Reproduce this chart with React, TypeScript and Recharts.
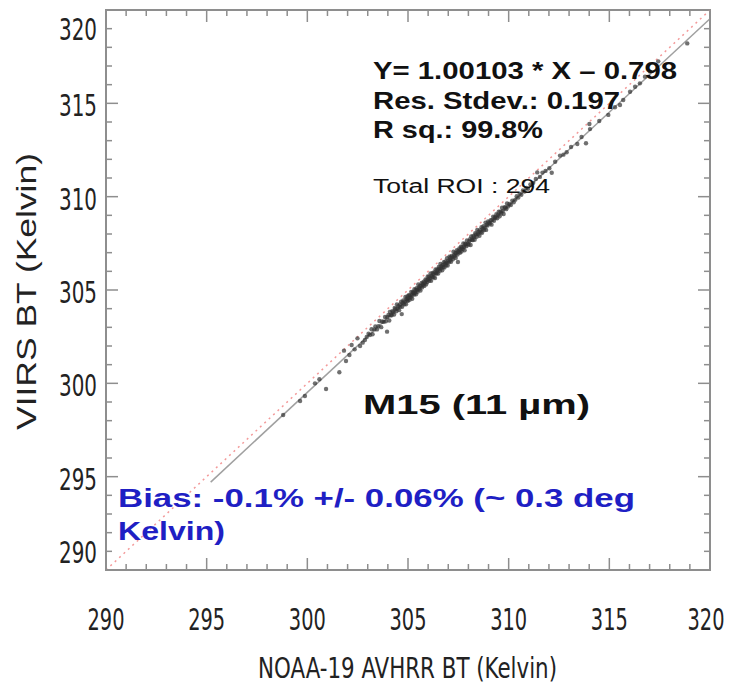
import React from 'react';
import { ScatterChart, Scatter, XAxis, YAxis, ReferenceLine, ReferenceArea } from 'recharts';

// axis ticks (K), every 1 K, labelled every 5 K
const axisTicks = [
  290, 291, 292, 293, 294, 295, 296, 297, 298, 299, 300, 301, 302, 303, 304, 305,
  306, 307, 308, 309, 310, 311, 312, 313, 314, 315, 316, 317, 318, 319, 320,
];
const axisDomain = [290, 320];

// 1:1 reference line and regression fit end points [avhrr, viirs]
const oneToOne = [[290, 290], [320, 320]];
const fitLine = [[295.2, 294.71], [320, 319.53]];

// ROI brightness temperatures: [NOAA-19 AVHRR, VIIRS M15]
const roiPoints = [
  [298.80, 298.30], [299.64, 299.05], [299.88, 299.32], [300.38, 300.00], [300.60, 300.22],
  [300.93, 299.70], [301.59, 300.59], [301.82, 301.75], [301.92, 301.20], [302.09, 301.52],
  [302.20, 302.05], [302.35, 301.82], [302.49, 302.41], [302.62, 302.00], [302.75, 302.18],
  [302.86, 302.32], [302.95, 302.48], [303.96, 302.77], [304.69, 303.71], [307.48, 306.50],

  [303.04, 302.66], [303.11, 302.59], [303.19, 302.90], [303.24, 302.63], [303.33, 302.89],
  [303.38, 303.05], [303.46, 302.89], [303.53, 303.06], [303.58, 303.34], [303.67, 303.01],
  [303.72, 303.31], [303.79, 303.29], [303.86, 303.55], [303.90, 303.32], [303.97, 303.54],
  [304.03, 303.67],

  [304.07, 303.37], [304.10, 303.83], [304.14, 303.65], [304.19, 303.65], [304.22, 303.87],
  [304.26, 303.81], [304.31, 303.69], [304.34, 304.04], [304.37, 303.97], [304.42, 303.86],
  [304.45, 304.23], [304.49, 304.01], [304.52, 304.13], [304.56, 303.92], [304.60, 304.22],
  [304.62, 304.10], [304.66, 304.37], [304.71, 304.10], [304.74, 304.30], [304.77, 304.44],
  [304.81, 304.24], [304.84, 304.37], [304.87, 304.63], [304.90, 304.24], [304.93, 304.52],
  [304.96, 304.46], [304.98, 304.67], [304.99, 304.41],

  [305.02, 304.57], [305.05, 304.74], [305.08, 304.48], [305.10, 304.70], [305.13, 304.60],
  [305.16, 304.90], [305.19, 304.72], [305.21, 304.53], [305.24, 304.88], [305.27, 304.84],
  [305.30, 304.75], [305.32, 305.04], [305.35, 304.85], [305.38, 304.99], [305.40, 304.77],
  [305.43, 305.09], [305.46, 305.00], [305.48, 304.90], [305.51, 305.30], [305.54, 305.12],
  [305.57, 305.06], [305.59, 305.22], [305.62, 304.97], [305.65, 305.21], [305.68, 305.38],
  [305.70, 305.14], [305.73, 305.32], [305.76, 305.28], [305.78, 305.45], [305.81, 305.22],
  [305.84, 305.39], [305.87, 305.56], [305.90, 305.30], [305.92, 305.52], [305.95, 305.42],
  [305.98, 305.72],

  [306.01, 305.57], [306.04, 305.71], [306.06, 305.49], [306.09, 305.62], [306.12, 305.88],
  [306.15, 305.49], [306.17, 305.76], [306.20, 305.70], [306.23, 305.92], [306.26, 305.68],
  [306.28, 305.85], [306.31, 305.95], [306.34, 305.64], [306.37, 306.10], [306.39, 305.90],
  [306.42, 305.88], [306.45, 306.10], [306.48, 306.03], [306.50, 305.88], [306.53, 306.23],
  [306.56, 306.16], [306.59, 306.03], [306.61, 306.39], [306.64, 306.16], [306.67, 306.28],
  [306.70, 306.06], [306.72, 306.34], [306.75, 306.23], [306.78, 306.49], [306.81, 306.20],
  [306.83, 306.39], [306.86, 306.53], [306.89, 306.32], [306.92, 306.45], [306.94, 306.70],
  [306.97, 306.31],

  [307.00, 306.57], [307.03, 306.48], [307.06, 306.78], [307.09, 306.59], [307.12, 306.73],
  [307.14, 306.51], [307.17, 306.83], [307.20, 306.74], [307.23, 306.65], [307.26, 307.05],
  [307.29, 306.87], [307.32, 306.81], [307.35, 306.98], [307.37, 306.72], [307.40, 306.96],
  [307.43, 307.13], [307.46, 306.90], [307.49, 307.08], [307.52, 307.04], [307.55, 307.22],
  [307.58, 306.99], [307.61, 307.16], [307.63, 307.32], [307.66, 307.06], [307.69, 307.29],
  [307.72, 307.19], [307.75, 307.49], [307.78, 307.31], [307.81, 307.13], [307.84, 307.48],
  [307.87, 307.44], [307.90, 307.35], [307.93, 307.65], [307.97, 307.47],

  [308.01, 307.43], [308.04, 307.61], [308.08, 307.72], [308.11, 307.41], [308.14, 307.87],
  [308.18, 307.69], [308.21, 307.67], [308.24, 307.89], [308.28, 307.83], [308.31, 307.69],
  [308.34, 308.04], [308.38, 307.98], [308.41, 307.85], [308.44, 308.22], [308.48, 308.00],
  [308.51, 308.12], [308.55, 307.91], [308.58, 308.20], [308.61, 308.09], [308.65, 308.36],
  [308.68, 308.07], [308.71, 308.27], [308.75, 308.42], [308.78, 308.21], [308.81, 308.34],
  [308.85, 308.61], [308.88, 308.22], [308.91, 308.50], [308.95, 308.45], [308.98, 308.67],

  [309.03, 308.61], [309.07, 308.56], [309.11, 308.74], [309.15, 308.50], [309.19, 308.75],
  [309.23, 308.93], [309.27, 308.71], [309.31, 308.90], [309.35, 308.87], [309.39, 309.06],
  [309.43, 308.84], [309.47, 309.02], [309.51, 309.20], [309.55, 308.95], [309.59, 309.19],
  [309.63, 309.10], [309.67, 309.41], [309.71, 309.24], [309.75, 309.07], [309.80, 309.44],
  [309.84, 309.41], [309.88, 309.33], [309.92, 309.64], [309.97, 309.47],

  [310.04, 309.61], [310.11, 309.55], [310.18, 309.79], [310.25, 309.70], [310.33, 309.84],
  [310.40, 310.02], [310.48, 309.95], [310.55, 310.16], [310.63, 310.10], [310.71, 310.33],
  [310.79, 310.28], [310.88, 310.47], [310.96, 310.42],

  [311.08, 310.66], [311.22, 310.74], [311.35, 310.95], [311.42, 311.30], [311.55, 311.06],
  [311.68, 311.29], [311.83, 311.38], [312.02, 311.52], [312.14, 311.28], [312.31, 311.87],
  [312.55, 312.20], [312.72, 312.25], [312.88, 312.38], [313.10, 312.66], [313.41, 312.82],
  [313.62, 313.20], [313.84, 312.86],

  [314.01, 313.89], [314.04, 313.62], [314.50, 314.05], [314.95, 314.38], [315.28, 314.79],
  [315.53, 314.91], [315.69, 315.18], [316.03, 315.62], [316.28, 315.89], [316.52, 316.07],
  [316.77, 316.43], [317.02, 316.70], [317.43, 317.25], [318.87, 318.21],
];

const W = 729;
const H = 686;
const MARGIN = { top: 10, right: 19, bottom: 0, left: 0 };
const Y_AXIS_W = 106;
const X_AXIS_H = 116;
const PLOT_TOP = MARGIN.top;
const PLOT_RIGHT = W - MARGIN.right;

const AXIS = '#8e8e8e';
const NARROW = "'Liberation Sans Narrow', 'Arial Narrow', 'DejaVu Sans Condensed', sans-serif";
const SANS = "'Liberation Sans', Arial, sans-serif";

const tickLen = (v: number) => (v % 5 === 0 ? 12 : 6);

function XTick(props: any) {
  const { x, y, payload } = props;
  const v = payload.value;
  const len = tickLen(v);
  // last label is nudged in so it stays on the page
  const lx = v === 320 ? x - 4 : x;
  return (
    <g>
      <line x1={x} x2={x} y1={y} y2={y - len} stroke={AXIS} strokeWidth={1.5} />
      <line x1={x} x2={x} y1={PLOT_TOP} y2={PLOT_TOP + len} stroke={AXIS} strokeWidth={1.5} />
      {v % 5 === 0 && (
        <text x={lx} y={y + 60} textAnchor="middle" fontFamily={NARROW} fontSize={30}
          fill="#222" textLength={37} lengthAdjust="spacingAndGlyphs">
          {v}
        </text>
      )}
    </g>
  );
}

function YTick(props: any) {
  const { x, y, payload } = props;
  const v = payload.value;
  const len = tickLen(v);
  // IDL pushes the end labels inside the axis range
  const base = v === 320 ? y + 30 : v === 290 ? y - 7 : y + 13;
  return (
    <g>
      <line x1={x} x2={x + len} y1={y} y2={y} stroke={AXIS} strokeWidth={1.5} />
      <line x1={PLOT_RIGHT} x2={PLOT_RIGHT - len} y1={y} y2={y} stroke={AXIS} strokeWidth={1.5} />
      {v % 5 === 0 && (
        <text x={x - 9} y={base} textAnchor="end" fontFamily={NARROW} fontSize={30}
          fill="#222" textLength={38} lengthAdjust="spacingAndGlyphs">
          {v}
        </text>
      )}
    </g>
  );
}

const Dot = (props: any) => {
  const { cx, cy } = props;
  return <circle cx={cx} cy={cy} r={2.2} fill="#333" fillOpacity={0.7} />;
};

export default function App() {
  const data = roiPoints.map(([x, y]) => ({ x, y }));
  const seg = (pts: number[][]) => pts.map(([x, y]) => ({ x, y }));

  return (
    <div style={{ position: 'absolute', left: 0, top: 0, width: W, height: H, background: '#fff' }}>
      <ScatterChart width={W} height={H} margin={MARGIN}>
        <XAxis type="number" dataKey="x" domain={axisDomain} ticks={axisTicks} interval={0}
          height={X_AXIS_H} tickSize={0} tickMargin={0} tick={<XTick />}
          axisLine={{ stroke: AXIS, strokeWidth: 2 }} />
        <YAxis type="number" dataKey="y" domain={axisDomain} ticks={axisTicks} interval={0}
          width={Y_AXIS_W} tickSize={0} tickMargin={0} tick={<YTick />}
          axisLine={{ stroke: AXIS, strokeWidth: 2 }} />
        <ReferenceArea x1={290} x2={320} y1={290} y2={320} fill="none" fillOpacity={0}
          stroke={AXIS} strokeWidth={2} />
        <ReferenceLine segment={seg(oneToOne)} stroke="#f39a9a" strokeWidth={1.5}
          strokeDasharray="2 4" />
        <ReferenceLine segment={seg(fitLine)} stroke="#a0a0a0" strokeWidth={1.5} />
        <Scatter data={data} shape={Dot} isAnimationActive={false} />
      </ScatterChart>

      <svg width={W} height={H} style={{ position: 'absolute', left: 0, top: 0, pointerEvents: 'none' }}>
        <text transform="translate(36, 291.5) rotate(-90)" textAnchor="middle" fontFamily={SANS}
          fontSize={28} fill="#222" textLength={277} lengthAdjust="spacingAndGlyphs">
          VIIRS  BT (Kelvin)
        </text>
        <text x={407.5} y={678} textAnchor="middle" fontFamily={NARROW} fontSize={29} fill="#222"
          textLength={299} lengthAdjust="spacingAndGlyphs">
          NOAA-19 AVHRR BT (Kelvin)
        </text>

        <g fontFamily={SANS} fontWeight="bold" fill="#111">
          <text x={373} y={79} fontSize={24} textLength={304} lengthAdjust="spacingAndGlyphs">
            Y= 1.00103  * X – 0.798
          </text>
          <text x={373} y={109} fontSize={24} textLength={247} lengthAdjust="spacingAndGlyphs">
            Res. Stdev.: 0.197
          </text>
          <text x={373} y={138} fontSize={24} textLength={170} lengthAdjust="spacingAndGlyphs">
            R sq.:  99.8%
          </text>
          <text x={363} y={414} fontSize={28} textLength={227} lengthAdjust="spacingAndGlyphs">
            M15 (11 µm)
          </text>
        </g>
        <text x={373} y={193} fontFamily={SANS} fontSize={20} fill="#111" textLength={177}
          lengthAdjust="spacingAndGlyphs">
          Total ROI : 294
        </text>

        <g fontFamily={SANS} fontWeight="bold" fill="#1f1fc4" fontSize={26}>
          <text x={118} y={507} textLength={517} lengthAdjust="spacingAndGlyphs">
            Bias: -0.1% +/- 0.06%  (~ 0.3 deg
          </text>
          <text x={118} y={540} textLength={107} lengthAdjust="spacingAndGlyphs">
            Kelvin)
          </text>
        </g>
      </svg>
    </div>
  );
}
